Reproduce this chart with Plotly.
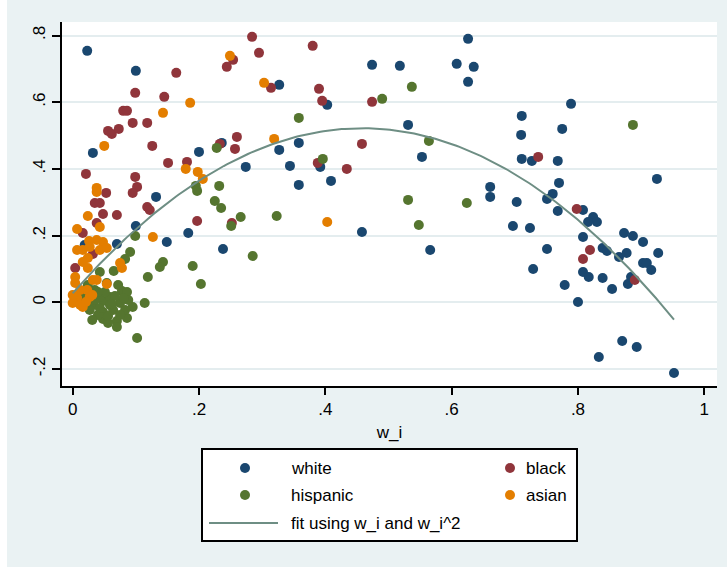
import numpy as np
import plotly.graph_objects as go

# ---------------- data ----------------
white_x = [0.023, 0.100, 0.032, 0.236, 0.200, 0.274, 0.132, 0.100, 0.183, 0.149, 0.238, 0.070, 0.019,
           0.327, 0.403, 0.474, 0.518, 0.608, 0.635, 0.626, 0.626, 0.531, 0.553, 0.358, 0.327, 0.344,
           0.392, 0.358, 0.409, 0.458, 0.566, 0.661, 0.661, 0.789, 0.711, 0.710, 0.775, 0.711, 0.727,
           0.768, 0.925, 0.703, 0.770, 0.760, 0.751, 0.768, 0.808, 0.697, 0.724, 0.808, 0.824, 0.830,
           0.816, 0.873, 0.887, 0.903, 0.751, 0.839, 0.846, 0.865, 0.877, 0.903, 0.909, 0.916, 0.927,
           0.808, 0.817, 0.839, 0.854, 0.779, 0.800, 0.879, 0.884, 0.870, 0.893, 0.833, 0.952, 0.729]
white_y = [0.754, 0.694, 0.448, 0.478, 0.451, 0.406, 0.316, 0.229, 0.208, 0.181, 0.160, 0.175, 0.172,
           0.652, 0.592, 0.712, 0.709, 0.715, 0.706, 0.790, 0.661, 0.532, 0.436, 0.478, 0.457, 0.409,
           0.406, 0.352, 0.364, 0.211, 0.157, 0.346, 0.316, 0.595, 0.559, 0.502, 0.520, 0.430, 0.424,
           0.424, 0.370, 0.301, 0.358, 0.325, 0.310, 0.274, 0.277, 0.229, 0.223, 0.196, 0.256, 0.241,
           0.241, 0.208, 0.199, 0.181, 0.160, 0.163, 0.154, 0.136, 0.148, 0.118, 0.118, 0.097, 0.148,
           0.091, 0.076, 0.073, 0.040, 0.052, 0.001, 0.055, 0.076, -0.116, -0.134, -0.164, -0.212, 0.100]

black_x = [0.284, 0.295, 0.380, 0.254, 0.244, 0.164, 0.099, 0.145, 0.080, 0.086, 0.056, 0.062, 0.073,
           0.095, 0.118, 0.126, 0.260, 0.257, 0.233, 0.021, 0.099, 0.102, 0.095, 0.053, 0.151, 0.181,
           0.314, 0.390, 0.395, 0.474, 0.458, 0.388, 0.434, 0.252, 0.035, 0.043, 0.118, 0.122, 0.048,
           0.070, 0.038, 0.197, 0.016, 0.004, 0.032, 0.737, 0.798, 0.819, 0.808, 0.890]
black_y = [0.796, 0.748, 0.769, 0.727, 0.706, 0.688, 0.628, 0.616, 0.574, 0.574, 0.514, 0.505, 0.520,
           0.538, 0.538, 0.469, 0.496, 0.460, 0.475, 0.385, 0.376, 0.346, 0.328, 0.328, 0.418, 0.421,
           0.643, 0.640, 0.604, 0.601, 0.475, 0.418, 0.400, 0.238, 0.298, 0.298, 0.286, 0.277, 0.265,
           0.262, 0.238, 0.244, 0.208, 0.103, 0.145, 0.436, 0.280, 0.157, 0.130, 0.067]

hisp_x = [0.537, 0.490, 0.358, 0.564, 0.396, 0.531, 0.624, 0.548, 0.323, 0.266, 0.251, 0.887, 0.285,
          0.228, 0.195, 0.197, 0.232, 0.225, 0.235, 0.190, 0.203, 0.099, 0.091, 0.083, 0.065, 0.043,
          0.143, 0.138, 0.119, 0.054, 0.078, 0.086, 0.114, 0.088, 0.095, 0.048, 0.032, 0.027, 0.048,
          0.064, 0.048, 0.070, 0.086, 0.070, 0.043, 0.059, 0.102, 0.035, 0.019, 0.059, 0.075, 0.012,
          0.024, 0.067, 0.051, 0.083, 0.040, 0.056,
          0.035, 0.043, 0.056, 0.075, 0.062, 0.081, 0.040, 0.072, 0.031]
hisp_y = [0.646, 0.610, 0.553, 0.484, 0.430, 0.307, 0.298, 0.232, 0.259, 0.256, 0.229, 0.532, 0.139,
          0.463, 0.349, 0.334, 0.349, 0.304, 0.283, 0.109, 0.055, 0.199, 0.151, 0.130, 0.094, 0.091,
          0.121, 0.106, 0.076, 0.058, 0.034, 0.031, -0.002, 0.007, -0.014, 0.004, -0.008, -0.023, -0.029,
          -0.023, -0.050, -0.056, -0.047, -0.074, 0.016, 0.016, -0.107, 0.037, 0.022, -0.008, -0.002, 0.007,
          0.052, 0.019, 0.031, -0.023, -0.038, -0.062,
          0.007, -0.017, -0.041, -0.038, -0.005, 0.013, 0.031, 0.052, -0.053]

asian_x = [0.249, 0.186, 0.143, 0.050, 0.179, 0.198, 0.206, 0.038, 0.038, 0.303, 0.319, 0.403, 0.024,
           0.043, 0.007, 0.127, 0.026, 0.038, 0.048, 0.007, 0.016, 0.027, 0.043, 0.054, 0.024, 0.016,
           0.024, 0.075, 0.078, 0.004, 0.032, 0.004, 0.012, 0.023, 0.054, 0.007, 0.000, 0.012, 0.016,
           0.027, 0.038, 0.031, 0.000, 0.021]
asian_y = [0.739, 0.598, 0.568, 0.469, 0.400, 0.391, 0.370, 0.343, 0.331, 0.658, 0.490, 0.241, 0.259,
           0.226, 0.220, 0.196, 0.184, 0.187, 0.181, 0.157, 0.157, 0.166, 0.157, 0.163, 0.133, 0.121,
           0.103, 0.118, 0.103, 0.076, 0.067, 0.058, 0.037, 0.037, 0.055, 0.013, -0.002, -0.008, -0.014,
           0.016, 0.067, 0.022, 0.022, 0.001]

# quadratic fit y = c0 + c1*w + c2*w^2 (coefficients)
fit_coef = [0.027, 2.159, -2.355]

x_ticks = [0, 0.2, 0.4, 0.6, 0.8, 1.0]
x_ticklabels = ["0", ".2", ".4", ".6", ".8", "1"]
y_ticks = [-0.2, 0, 0.2, 0.4, 0.6, 0.8]
y_ticklabels = ["-.2", "0", ".2", ".4", ".6", ".8"]

series_names = ["white", "black", "hispanic", "asian"]
series_colors = ["#1a476f", "#90353b", "#55752f", "#e37e00"]
fit_name = "fit using w_i and w_i^2"
fit_color = "#6e8e84"

# ---------------- figure ----------------
FONT = "Liberation Sans, Arial, sans-serif"
fig = go.Figure()
series = [(white_x, white_y), (black_x, black_y), (hisp_x, hisp_y), (asian_x, asian_y)]
for (sx, sy), name, col in zip(series, series_names, series_colors):
    fig.add_trace(go.Scatter(x=sx, y=sy, mode="markers", name=name,
                             marker=dict(color=col, size=10, line=dict(width=0)),
                             showlegend=False))

all_x = np.array(white_x + black_x + hisp_x + asian_x)
fx = np.linspace(all_x.min(), all_x.max(), 200)
fy = fit_coef[0] + fit_coef[1] * fx + fit_coef[2] * fx ** 2
fig.add_trace(go.Scatter(x=fx, y=fy, mode="lines", name=fit_name,
                         line=dict(color=fit_color, width=2), showlegend=False))

BG = "#eaf2f3"
W, H = 727, 567
L, R, T, B = 62, 10, 22, 181
pw, ph = W - L - R, H - T - B


def px(xp):
    return (xp - L) / pw


def py(yp):
    return (H - B - yp) / ph


shapes = []
annotations = []
# left white strip of the original screenshot
shapes.append(dict(type="rect", xref="paper", yref="paper", x0=px(0), x1=px(7), y0=py(0), y1=py(H),
                   fillcolor="white", line=dict(width=0), layer="below"))
# legend box
shapes.append(dict(type="rect", xref="paper", yref="paper", x0=px(202), x1=px(577), y0=py(449), y1=py(541),
                   fillcolor="white", line=dict(color="black", width=2), layer="above"))
legend_pos = [(245, 289, 468), (510, 524, 468), (245, 289, 495), (510, 524, 495)]
for (mx, tx, yy), name, col in zip(legend_pos, series_names, series_colors):
    shapes.append(dict(type="circle", xref="paper", yref="paper", xsizemode="pixel", ysizemode="pixel",
                       xanchor=px(mx), yanchor=py(yy), x0=-5, x1=5, y0=-5, y1=5,
                       fillcolor=col, line=dict(width=0), layer="above"))
    annotations.append(dict(x=px(tx), y=py(yy), xref="paper", yref="paper", text=name, showarrow=False,
                            xanchor="left", yanchor="middle", font=dict(size=17, color="black", family=FONT)))
shapes.append(dict(type="line", xref="paper", yref="paper", x0=px(209), x1=px(278), y0=py(523), y1=py(523),
                   line=dict(color=fit_color, width=2), layer="above"))
annotations.append(dict(x=px(289), y=py(523), xref="paper", yref="paper", text=fit_name, showarrow=False,
                        xanchor="left", yanchor="middle", font=dict(size=17, color="black", family=FONT)))

fig.update_layout(
    width=W, height=H,
    margin=dict(l=L, r=R, t=T, b=B, pad=0),
    paper_bgcolor=BG, plot_bgcolor="white",
    font=dict(family=FONT, size=17, color="black"),
    shapes=shapes, annotations=annotations,
    showlegend=False,
    xaxis=dict(range=[-0.0169, 1.0201], tickvals=x_ticks, ticktext=x_ticklabels,
               showgrid=False, zeroline=False, showline=True, linecolor="black", linewidth=2,
               ticks="outside", ticklen=7, tickwidth=2, tickcolor="black",
               title=dict(text="w_i", standoff=8, font=dict(size=17))),
    yaxis=dict(range=[-0.251, 0.8405], tickvals=y_ticks, ticktext=y_ticklabels, tickangle=-90,
               showgrid=True, gridcolor="#e4edef", gridwidth=2, zeroline=False,
               showline=True, linecolor="black", linewidth=2,
               ticks="outside", ticklen=8, tickwidth=2, tickcolor="black"),
)

fig.write_html("out.html")
